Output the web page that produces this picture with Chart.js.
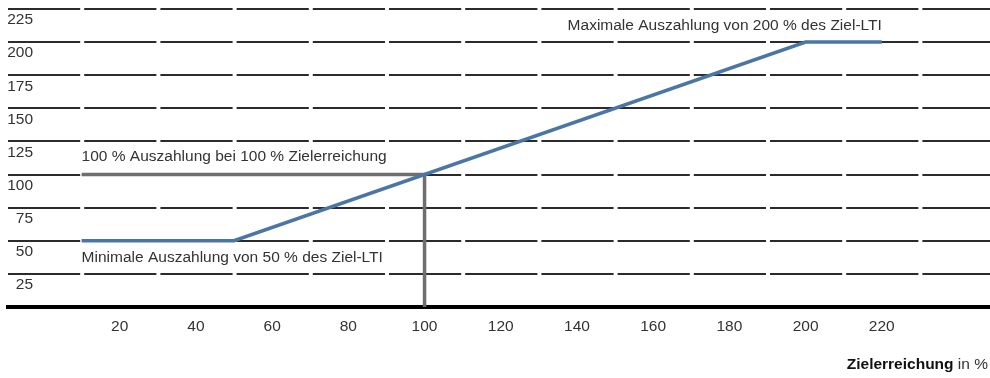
<!DOCTYPE html>
<html lang="de">
<head>
<meta charset="utf-8">
<script src="https://cdn.jsdelivr.net/npm/chart.js@4/dist/chart.umd.min.js"></script>
<style>
  html, body { margin: 0; padding: 0; background: #ffffff; }
  #wrap { width: 990px; height: 378px; position: relative; }
</style>
</head>
<body>
<div id="wrap"><canvas id="chart"></canvas></div>
<script>
// Zielerreichung (x, in %) -> Auszahlung (y, in % des Ziel-LTI)
const payoutX = [10, 50, 200, 220];
const payoutY = [50, 50, 200, 200];

// Referenzlinie: 100 % Auszahlung bei 100 % Zielerreichung
const refX = [10, 100, 100];
const refY = [100, 100, 0];

const xTicks = [20, 40, 60, 80, 100, 120, 140, 160, 180, 200, 220];
const yTicks = [0, 25, 50, 75, 100, 125, 150, 175, 200, 225];

const notes = [
  { text: 'Maximale Auszahlung von 200 % des Ziel-LTI', x: 220, y: 212, align: 'right' },
  { text: '100 % Auszahlung bei 100 % Zielerreichung', x: 10, y: 113.5, align: 'left' },
  { text: 'Minimale Auszahlung von 50 % des Ziel-LTI', x: 10, y: 37.5, align: 'left' }
];

const FONT = '"Liberation Sans", Arial, Helvetica, sans-serif';
const SIZE = 15.5;
const TEXT = '#333333';

const toPoints = (xs, ys) => xs.map((x, i) => ({ x, y: ys[i] }));

// y-axis labels sit just below each grid line, right-aligned inside the plot
const yLabelPlugin = {
  id: 'yLabels',
  afterDraw(chart) {
    const { ctx, chartArea, scales } = chart;
    ctx.save();
    ctx.font = SIZE + 'px ' + FONT;
    ctx.fillStyle = TEXT;
    ctx.textAlign = 'right';
    ctx.textBaseline = 'middle';
    yTicks.forEach(v => {
      if (v === 0) return;
      ctx.fillText(String(v), chartArea.left + 25, scales.y.getPixelForValue(v) + 11);
    });
    ctx.restore();
  }
};

// text notes anchored in data coordinates, plus the axis caption
const notesPlugin = {
  id: 'notes',
  afterDatasetsDraw(chart) {
    const { ctx, scales, chartArea } = chart;
    ctx.save();
    ctx.font = SIZE + 'px ' + FONT;
    ctx.fillStyle = TEXT;
    ctx.textBaseline = 'middle';
    notes.forEach(n => {
      ctx.textAlign = n.align;
      ctx.fillText(n.text, scales.x.getPixelForValue(n.x), scales.y.getPixelForValue(n.y));
    });
    // axis caption: "Zielerreichung in %"
    const right = chartArea.right - 2;
    const y = 365;
    ctx.textAlign = 'left';
    ctx.font = SIZE + 'px ' + FONT;
    const tail = ' in %';
    const wTail = ctx.measureText(tail).width;
    ctx.font = 'bold ' + SIZE + 'px ' + FONT;
    const head = 'Zielerreichung';
    const wHead = ctx.measureText(head).width;
    ctx.fillStyle = '#111111';
    ctx.fillText(head, right - wTail - wHead, y);
    ctx.font = SIZE + 'px ' + FONT;
    ctx.fillStyle = TEXT;
    ctx.fillText(tail, right - wTail, y);
    ctx.restore();
  }
};

new Chart(document.getElementById('chart'), {
  type: 'line',
  data: {
    datasets: [
      {
        label: 'Auszahlung',
        data: toPoints(payoutX, payoutY),
        borderColor: '#4a76a6',
        borderWidth: 3.5,
        pointRadius: 0,
        tension: 0,
        borderCapStyle: 'butt',
        borderJoinStyle: 'miter'
      },
      {
        label: 'Ziel',
        data: toPoints(refX, refY),
        borderColor: '#6e6e6e',
        borderWidth: 3.5,
        pointRadius: 0,
        tension: 0,
        borderCapStyle: 'butt',
        borderJoinStyle: 'miter'
      }
    ]
  },
  options: {
    responsive: true,
    maintainAspectRatio: false,
    animation: false,
    events: [],
    layout: { padding: { left: 8, right: 0, top: 9, bottom: 0 } },
    plugins: { legend: { display: false }, tooltip: { enabled: false } },
    scales: {
      x: {
        type: 'linear',
        min: -9.32,
        max: 248.4,
        afterBuildTicks: s => { s.ticks = xTicks.map(v => ({ value: v })); },
        afterFit: s => { s.height = 71; },
        grid: { display: false, drawTicks: false },
        border: { display: true, color: '#000000', width: 4 },
        ticks: {
          font: { family: FONT, size: SIZE },
          color: TEXT,
          padding: 10,
          maxRotation: 0,
          autoSkip: false
        }
      },
      y: {
        type: 'linear',
        min: 0,
        max: 225,
        afterBuildTicks: s => { s.ticks = yTicks.map(v => ({ value: v })); },
        afterFit: s => { s.width = 0; },
        grid: {
          drawTicks: false,
          lineWidth: 2,
          color: c => (c.tick && c.tick.value === 0 ? 'rgba(0,0,0,0)' : '#2b2b2b')
        },
        border: { display: false, dash: [72.2, 4] },
        ticks: { display: false }
      }
    }
  },
  plugins: [yLabelPlugin, notesPlugin]
});
</script>
</body>
</html>
